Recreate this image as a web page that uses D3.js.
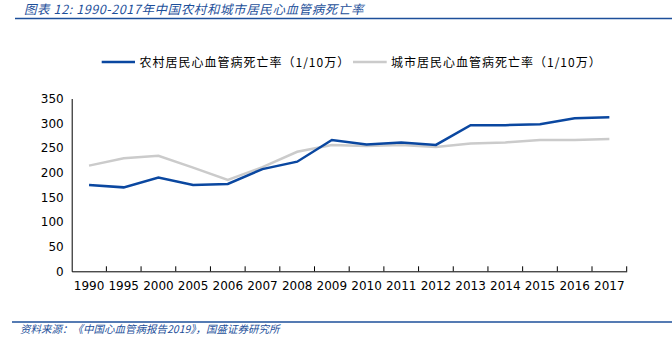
<!DOCTYPE html>
<html><head><meta charset="utf-8">
<script src="https://cdn.jsdelivr.net/npm/d3@7"></script>
<style>body{margin:0;background:#fff;} svg{display:block;}</style>
</head><body>
<svg id="c" width="672" height="350"></svg>
<script>
const categories = ["1990","1995","2000","2005","2006","2007","2008","2009","2010","2011","2012","2013","2014","2015","2016","2017"];
const rural = [175,170,190,175,177,207,222,266,257,261,256,296,296,298,310,312];
const urban = [214,229,234,210,185,211,242,256,254,256,252,259,261,266,266,268];
const yTicks = [0,50,100,150,200,250,300,350];
const seriesNames = ["农村居民心血管病死亡率（1/10万）","城市居民心血管病死亡率（1/10万）"];
const titleText = "图表 12:  1990-2017年中国农村和城市居民心血管病死亡率";
const sourceText = "资料来源：《中国心血管病报告2019》，国盛证券研究所";

const svg = d3.select("#c");
const blue = "#0a47a0", gray = "#cbcbcb", navy = "#1d4f9a";
const cjk = "'Noto Sans CJK SC', sans-serif";
const num = "'DejaVu Sans', Verdana, sans-serif";

svg.append("text").attr("x",24).attr("y",14).attr("fill",navy)
  .attr("font-family",cjk).attr("font-size",12.5).attr("font-style","italic").attr("letter-spacing",0.6).text(titleText);
svg.append("line").attr("x1",15).attr("x2",672).attr("y1",18.5).attr("y2",18.5).attr("stroke",navy).attr("stroke-width",1.5);
svg.append("line").attr("x1",12).attr("x2",672).attr("y1",322).attr("y2",322).attr("stroke",navy).attr("stroke-width",1.5);
svg.append("text").attr("x",20).attr("y",333).attr("fill",navy)
  .attr("font-family",cjk).attr("font-size",10.5).attr("font-style","italic").text(sourceText);

const x = d3.scaleBand().domain(categories).range([71.7,626.7]);
const y = d3.scaleLinear().domain([0,350]).range([271.3,98.5]);

const gx = svg.append("g").attr("transform","translate(0,271.3)")
  .call(d3.axisBottom(x).tickSize(0).tickPadding(10));
gx.select(".domain").attr("stroke","#000");
gx.selectAll("text").attr("font-family",num).attr("font-size",12).attr("fill","#000");
svg.append("g").selectAll("line").data(categories.slice(1).concat(["end"])).join("line")
  .attr("x1",(d,i)=>x.range()[0]+x.bandwidth()*(i+1)).attr("x2",(d,i)=>x.range()[0]+x.bandwidth()*(i+1))
  .attr("y1",271.3).attr("y2",266.3).attr("stroke","#000");

const gy = svg.append("g").attr("transform","translate(71.7,0)")
  .call(d3.axisLeft(y).tickValues(yTicks).tickSize(0).tickPadding(8));
gy.select(".domain").attr("stroke","#000");
gy.selectAll("text").attr("font-family",num).attr("font-size",12).attr("fill","#000");

const line = d3.line().x((d,i)=>x(categories[i])+x.bandwidth()/2).y(d=>y(d));
svg.append("path").datum(urban).attr("d",line).attr("fill","none").attr("stroke",gray).attr("stroke-width",2.5);
svg.append("path").datum(rural).attr("d",line).attr("fill","none").attr("stroke",blue).attr("stroke-width",2.5);

const lg = [{c:blue,x1:101.7,x2:135,tx:139.5,t:seriesNames[0]},{c:gray,x1:353,x2:386.7,tx:391,t:seriesNames[1]}];
lg.forEach(l=>{
  svg.append("line").attr("x1",l.x1).attr("x2",l.x2).attr("y1",62).attr("y2",62).attr("stroke",l.c).attr("stroke-width",2.5);
  svg.append("text").attr("x",l.tx).attr("y",66.5).attr("font-family",cjk).attr("font-size",12).attr("letter-spacing",1).attr("fill","#000").text(l.t);
});
</script>
</body></html>
